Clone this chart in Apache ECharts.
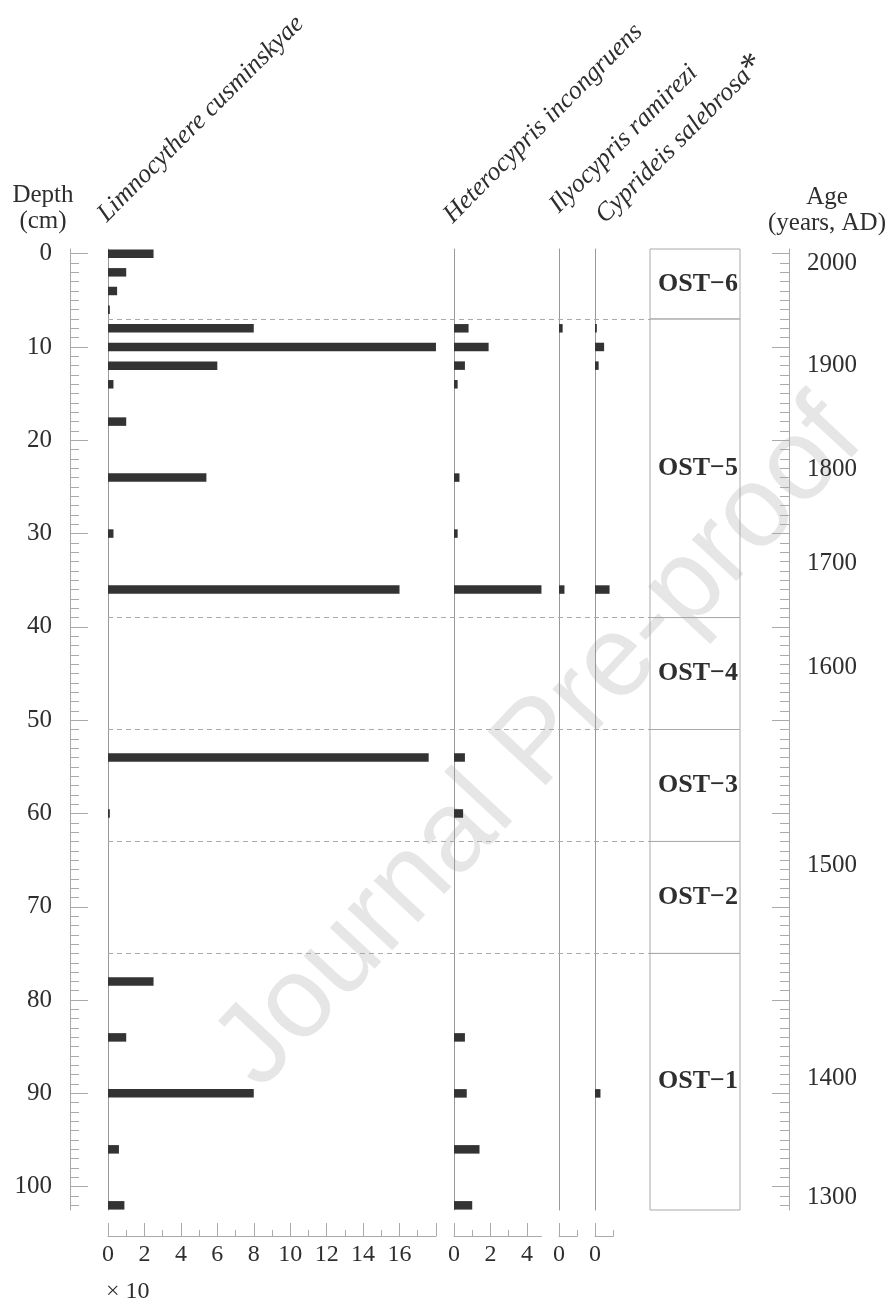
<!DOCTYPE html>
<html>
<head>
<meta charset="utf-8">
<title>Ostracod stratigraphy</title>
<script src="https://cdn.jsdelivr.net/npm/echarts@6/dist/echarts.min.js"></script>
<style>
  html, body { margin: 0; padding: 0; background: #fff; }
  #chart { width: 895px; height: 1308px; }
</style>
</head>
<body>
<div id="chart"></div>
<script>
// sample depths (cm)
var depths = [0, 2, 4, 6, 8, 10, 12, 14, 18, 24, 30, 36, 54, 60, 78, 84, 90, 96, 102];
// abundances per taxon (Limnocythere is x10)
var limnocythere = [2.5, 1.0, 0.5, 0.1, 8.0, 18.0, 6.0, 0.3, 1.0, 5.4, 0.3, 16.0, 17.6, 0.1, 2.5, 1.0, 8.0, 0.6, 0.9];
var heterocypris = [0, 0, 0, 0, 0.8, 1.9, 0.6, 0.2, 0, 0.3, 0.2, 4.8, 0.6, 0.5, 0, 0.6, 0.7, 1.4, 1.0];
var ilyocypris   = [0, 0, 0, 0, 0.2, 0, 0, 0, 0, 0, 0, 0.3, 0, 0, 0, 0, 0, 0, 0];
var cyprideis    = [0, 0, 0, 0, 0.1, 0.5, 0.2, 0, 0, 0, 0, 0.8, 0, 0, 0, 0, 0.3, 0, 0];

// ostracod zones
var zoneNames  = ['OST−6', 'OST−5', 'OST−4', 'OST−3', 'OST−2', 'OST−1'];
var zoneBounds = [-0.5, 7, 39, 51, 63, 75, 102.5];

// depth axis ticks
var depthTicks = [0, 10, 20, 30, 40, 50, 60, 70, 80, 90, 100];
// age axis labels and the depth where each one sits
var ageLabels = [2000, 1900, 1800, 1700, 1600, 1500, 1400, 1300];
var ageDepths = [1.0, 12.0, 23.1, 33.2, 44.3, 65.6, 88.4, 101.2];

// x ticks of each panel
var limnoMajor  = [0, 2, 4, 6, 8, 10, 12, 14, 16, 18];
var limnoMinor  = [1, 3, 5, 7, 9, 11, 13, 15, 17];
var limnoLabels = [0, 2, 4, 6, 8, 10, 12, 14, 16];
var heteroMajor = [0, 2, 4];
var heteroMinor = [1, 3];
var smallMajor  = [0];
var smallMinor  = [1];

var depthMinor = [];
for (var d = 1; d <= 102; d++) { if (d % 10 !== 0) depthMinor.push(d); }

var SERIF = '"Liberation Serif", "Times New Roman", serif';
var TXT = '#2e2e2e';
var LINE = '#aaa';
var TOP = 249, HEIGHT = 961;
var PX = 18.22; // px per unit on all panels

var panels = [
  { name: 'Limnocythere cusminskyae', left: 108, max: 18, vals: limnocythere, major: limnoMajor, minor: limnoMinor, labels: limnoLabels },
  { name: 'Heterocypris incongruens', left: 454, max: 4.8, vals: heterocypris, major: heteroMajor, minor: heteroMinor, labels: heteroMajor },
  { name: 'Ilyocypris ramirezi', left: 559, max: 1, vals: ilyocypris, major: smallMajor, minor: smallMinor, labels: smallMajor },
  { name: 'Cyprideis salebrosa', left: 595, max: 1, vals: cyprideis, major: smallMajor, minor: smallMinor, labels: smallMajor }
];

var chart = echarts.init(document.getElementById('chart'));

var grid = [], xAxis = [], yAxis = [], series = [];

function depthAxis(gridIndex, extra) {
  var a = {
    type: 'value', gridIndex: gridIndex, inverse: true, min: -0.5, max: 102.5,
    axisLine: { show: false, onZero: false },
    axisTick: { show: false }, axisLabel: { show: false }, splitLine: { show: false }
  };
  return Object.assign(a, extra || {});
}

function renderBar(params, api) {
  var start = api.coord([0, api.value(1)]);
  var end = api.coord([api.value(0), api.value(1)]);
  var h = 8.5;
  return {
    type: 'rect',
    shape: { x: start[0], y: start[1] - h / 2, width: end[0] - start[0], height: h },
    style: { fill: '#333' }
  };
}

panels.forEach(function (p, i) {
  grid.push({ left: p.left, top: TOP, width: p.max * PX, height: HEIGHT, outerBoundsMode: 'none' });
  // major ticks + labels
  xAxis.push({
    type: 'value', gridIndex: i, min: 0, max: p.max, position: 'bottom', offset: 26,
    axisLine: { show: true, onZero: false, lineStyle: { color: LINE } },
    axisTick: { show: true, inside: true, length: 13, customValues: p.major, lineStyle: { color: LINE } },
    axisLabel: { show: true, customValues: p.labels, margin: 7, fontSize: 24, fontFamily: SERIF, color: TXT },
    splitLine: { show: false }
  });
  // minor ticks
  xAxis.push({
    type: 'value', gridIndex: i, min: 0, max: p.max, position: 'bottom', offset: 26,
    axisLine: { show: false, onZero: false },
    axisTick: { show: true, inside: true, length: 6, customValues: p.minor, lineStyle: { color: LINE } },
    axisLabel: { show: false }, splitLine: { show: false }
  });
  // panel baseline
  yAxis.push(depthAxis(i, { axisLine: { show: true, onZero: false, lineStyle: { color: '#999' } } }));

  var data = [];
  depths.forEach(function (dep, k) {
    if (p.vals[k] > 0) data.push([p.vals[k], dep]);
  });
  series.push({
    type: 'custom', name: p.name, xAxisIndex: i * 2, yAxisIndex: i,
    encode: { x: 0, y: 1 }, renderItem: renderBar, data: data, silent: true
  });
});

// grid 4: dashed zone lines across the panels
grid.push({ left: 108, top: TOP, width: 542, height: HEIGHT, outerBoundsMode: 'none' });
xAxis.push({ type: 'value', gridIndex: 4, min: 0, max: 1, show: false });
yAxis.push(depthAxis(4, { show: false }));
series.push({
  type: 'line', xAxisIndex: 8, yAxisIndex: 4, data: [], silent: true,
  markLine: {
    silent: true, symbol: ['none', 'none'], animation: false,
    label: { show: false },
    lineStyle: { type: [5, 4], color: LINE, width: 1 },
    data: zoneBounds.slice(1, -1).map(function (b) { return { yAxis: b }; })
  }
});

// grid 5: zone box
grid.push({ left: 650, top: TOP, width: 90, height: HEIGHT, outerBoundsMode: 'none' });
xAxis.push({ type: 'value', gridIndex: 5, min: 0, max: 1, show: false });
yAxis.push(depthAxis(5, { show: false }));
series.push({
  type: 'line', xAxisIndex: 9, yAxisIndex: 5, data: [], silent: true,
  markArea: {
    silent: true, animation: false,
    itemStyle: { color: 'rgba(0,0,0,0)', borderColor: LINE, borderWidth: 1 },
    label: { show: true, position: 'inside', offset: [3, 0], fontSize: 26, fontWeight: 'bold', fontFamily: SERIF, color: TXT },
    data: zoneNames.map(function (n, k) {
      return [{ name: n, yAxis: zoneBounds[k] }, { yAxis: zoneBounds[k + 1] }];
    })
  }
});

// depth axis (left)
yAxis.push(depthAxis(0, {
  position: 'left', offset: 38,
  axisLine: { show: true, onZero: false, lineStyle: { color: LINE } },
  axisTick: { show: true, inside: true, length: 18, customValues: depthTicks, lineStyle: { color: LINE } },
  axisLabel: { show: true, customValues: depthTicks, margin: 18, fontSize: 25, fontFamily: SERIF, color: TXT }
}));
yAxis.push(depthAxis(0, {
  position: 'left', offset: 38,
  axisTick: { show: true, inside: true, length: 9, customValues: depthMinor, lineStyle: { color: LINE } }
}));
// age axis (right)
yAxis.push(depthAxis(5, {
  position: 'right', offset: 49,
  axisLine: { show: true, onZero: false, lineStyle: { color: LINE } },
  axisTick: { show: true, inside: true, length: 17, customValues: depthTicks, lineStyle: { color: LINE } },
  axisLabel: {
    show: true, customValues: ageDepths, margin: 18, fontSize: 25, fontFamily: SERIF, color: TXT,
    formatter: function (v) {
      var k = ageDepths.indexOf(v);
      return k >= 0 ? String(ageLabels[k]) : '';
    }
  }
}));
yAxis.push(depthAxis(5, {
  position: 'right', offset: 49,
  axisTick: { show: true, inside: true, length: 9, customValues: depthMinor, lineStyle: { color: LINE } }
}));

// rotated taxon names, anchored near the start of each panel
var nameAnchors = [[111, 227], [457, 228], [563, 218], [613, 232]];
var graphics = [];
panels.forEach(function (p, i) {
  var isLast = i === panels.length - 1;
  graphics.push({
    type: 'text', x: nameAnchors[i][0], y: nameAnchors[i][1], rotation: Math.PI / 4, silent: true,
    style: {
      text: isLast ? p.name + '{s|*}' : p.name,
      font: 'italic 26px ' + SERIF, fill: TXT, align: 'left', verticalAlign: 'bottom',
      rich: { s: { fontStyle: 'normal', fontSize: 36, fontFamily: SERIF, fill: TXT, verticalAlign: 'top' } }
    }
  });
});
graphics.push(
  { type: 'text', x: 43, y: 182, silent: true,
    style: { text: 'Depth\n(cm)', font: '25px ' + SERIF, fill: TXT, align: 'center', verticalAlign: 'top', lineHeight: 26 } },
  { type: 'text', x: 827, y: 184, silent: true,
    style: { text: 'Age\n(years, AD)', font: '25px ' + SERIF, fill: TXT, align: 'center', verticalAlign: 'top', lineHeight: 26 } },
  { type: 'text', x: 106, y: 1292, silent: true,
    style: { text: '× 10', font: '24px ' + SERIF, fill: TXT, align: 'left', verticalAlign: 'middle' } },
  // watermark
  { type: 'text', x: 540, y: 745, rotation: 47 * Math.PI / 180, silent: true, z: -10,
    style: { text: 'Journal Pre-proof', font: '115px "Liberation Sans", Arial, sans-serif', fill: '#e6e6e6', align: 'center', verticalAlign: 'middle' } }
);

chart.setOption({
  animation: false,
  backgroundColor: '#fff',
  grid: grid,
  xAxis: xAxis,
  yAxis: yAxis,
  series: series,
  graphic: graphics
});
</script>
</body>
</html>
